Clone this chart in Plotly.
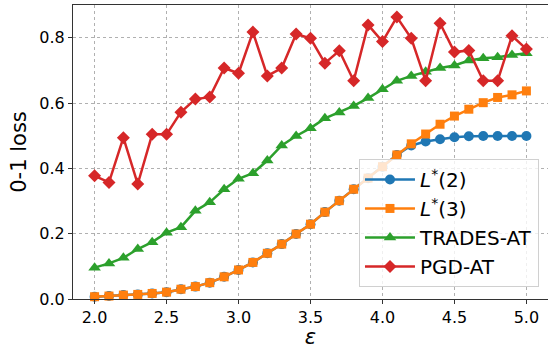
import plotly.graph_objects as go

eps = [round(2.0 + 0.1 * i, 1) for i in range(31)]

l2 = [0.007, 0.009, 0.012, 0.014, 0.017, 0.021, 0.030, 0.038, 0.050, 0.068,
      0.089, 0.112, 0.140, 0.168, 0.199, 0.229, 0.266, 0.301, 0.336, 0.370,
      0.405, 0.441, 0.470, 0.482, 0.489, 0.495, 0.498, 0.499, 0.499, 0.499, 0.499]
l3 = [0.007, 0.009, 0.012, 0.014, 0.017, 0.021, 0.030, 0.038, 0.050, 0.068,
      0.089, 0.112, 0.140, 0.168, 0.199, 0.229, 0.266, 0.301, 0.336, 0.370,
      0.405, 0.441, 0.475, 0.505, 0.535, 0.560, 0.581, 0.601, 0.617, 0.625, 0.637]
trades = [0.096, 0.109, 0.126, 0.153, 0.174, 0.203, 0.220, 0.270, 0.296, 0.336,
          0.368, 0.385, 0.424, 0.470, 0.499, 0.523, 0.553, 0.571, 0.591, 0.615,
          0.642, 0.668, 0.683, 0.696, 0.707, 0.715, 0.730, 0.737, 0.740, 0.747, 0.752]
pgd = [0.377, 0.357, 0.494, 0.352, 0.504, 0.504, 0.572, 0.612, 0.618, 0.707,
       0.691, 0.817, 0.683, 0.707, 0.811, 0.798, 0.722, 0.760, 0.668, 0.839,
       0.788, 0.863, 0.798, 0.668, 0.844, 0.756, 0.761, 0.668, 0.668, 0.806, 0.765]

series = [
    ("<i>L</i><sup>*</sup>(2)", l2, "#1f77b4", "circle", 10),
    ("<i>L</i><sup>*</sup>(3)", l3, "#ff7f0e", "square", 9),
    ("TRADES-AT", trades, "#2ca02c", "triangle-up", 11),
    ("PGD-AT", pgd, "#d62728", "diamond", 10),
]

fig = go.Figure()
for name, ys, color, sym, size in series:
    fig.add_trace(go.Scatter(
        x=eps, y=ys, name=name, mode="lines+markers",
        line=dict(color=color, width=2.5),
        marker=dict(symbol=sym, size=size, color=color),
        cliponaxis=False,
    ))

fig.update_layout(
    width=548, height=349,
    margin=dict(l=73, r=0, t=5, b=50, autoexpand=False),
    plot_bgcolor="white", paper_bgcolor="white",
    font=dict(family="DejaVu Sans", size=16, color="black"),
    showlegend=True,
    legend=dict(
        x=0.981, y=0.041, xanchor="right", yanchor="bottom",
        bgcolor="rgba(255,255,255,0.8)", bordercolor="#d0d0d0", borderwidth=1,
        font=dict(size=20), tracegroupgap=0, itemwidth=50,
    ),
)
fig.update_xaxes(
    range=[1.85, 5.15], dtick=0.5, tick0=2.0, tickformat=".1f",
    showgrid=True, gridcolor="#b0b0b0", griddash="dot", gridwidth=1,
    showline=True, linecolor="#333333", linewidth=1.2, mirror=True,
    ticks="outside", ticklen=4, tickcolor="#333333",
    zeroline=False, automargin=False,
    title=dict(text="<i>ε</i>", font=dict(size=21), standoff=7),
)
fig.update_yaxes(
    range=[0, 0.9], dtick=0.2, tick0=0, tickformat=".1f",
    showgrid=True, gridcolor="#b0b0b0", griddash="dot", gridwidth=1,
    showline=True, linecolor="#333333", linewidth=1.2,
    ticks="outside", ticklen=4, tickcolor="#333333",
    zeroline=False, automargin=False,
    title=dict(text="0-1 loss", font=dict(size=21), standoff=6),
)

fig.write_html("out.html", config={"displayModeBar": False},
               post_script="document.body.style.margin='0';")
